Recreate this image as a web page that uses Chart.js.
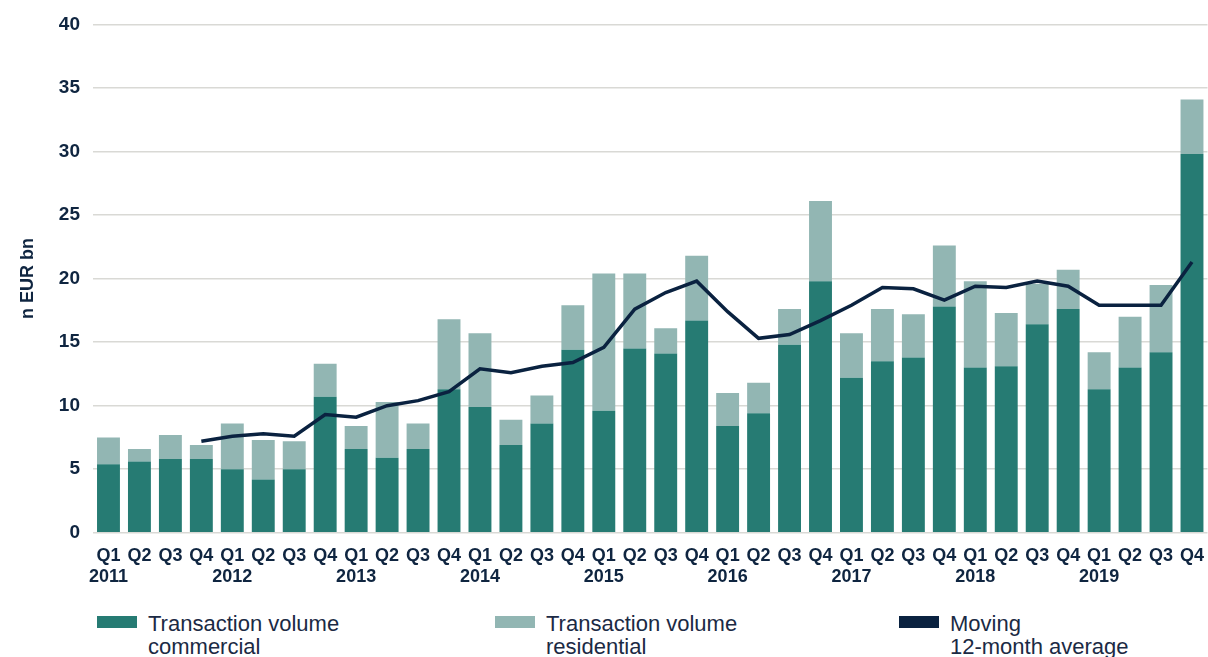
<!DOCTYPE html>
<html>
  <head>
    <script src="https://cdn.jsdelivr.net/npm/chart.js"></script>
    <style>
      body { margin: 0; background: #fff; width: 1208px; height: 657px; overflow: hidden; position: relative; }
      #wrap { position: absolute; left: 0; top: 0; width: 1208px; height: 592px; }
      .leg { position: absolute; top: 612px; font-family: "Liberation Sans", Arial, sans-serif; font-size: 22px; line-height: 23px; color: #1b2a44; }
      .leg span.box { position: absolute; left: 0; top: 4px; width: 40px; height: 12px; }
      .leg div { margin-left: 51px; }
    </style>
  </head>
  <body>
    <div id="wrap"><canvas id="volume-chart"></canvas></div>
    <div class="leg" style="left:97px"><span class="box" style="background:#267b73"></span><div>Transaction volume<br>commercial</div></div>
    <div class="leg" style="left:495px"><span class="box" style="background:#92b6b3"></span><div>Transaction volume<br>residential</div></div>
    <div class="leg" style="left:899px"><span class="box" style="background:#0a2240"></span><div>Moving<br>12-month average</div></div>
    <script>
      var quarters = ['Q1', 'Q2', 'Q3', 'Q4'];
      var years = ['2011', '2012', '2013', '2014', '2015', '2016', '2017', '2018', '2019'];

      // commercial part of each bar (EUR bn)
      var commercial = [
        5.4, 5.6, 5.8, 5.8,
        5.0, 4.2, 5.0, 10.7,
        6.6, 5.9, 6.6, 11.3,
        9.9, 6.9, 8.6, 14.4,
        9.6, 14.5, 14.1, 16.7,
        8.4, 9.4, 14.8, 19.8,
        12.2, 13.5, 13.8, 17.8,
        13.0, 13.1, 16.4, 17.6,
        11.3, 13.0, 14.2, 29.8
      ];
      // total bar height (commercial + residential)
      var totals = [
        7.5, 6.6, 7.7, 6.9,
        8.6, 7.3, 7.2, 13.3,
        8.4, 10.3, 8.6, 16.8,
        15.7, 8.9, 10.8, 17.9,
        20.4, 20.4, 16.1, 21.8,
        11.0, 11.8, 17.6, 26.1,
        15.7, 17.6, 17.2, 22.6,
        19.8, 17.3, 19.6, 20.7,
        14.2, 17.0, 19.5, 34.1
      ];
      // moving 12-month average (starts at Q4 2011)
      var movingAvg = [
        null, null, null, 7.2,
        7.6, 7.8, 7.6, 9.3,
        9.1, 10.0, 10.4, 11.1,
        12.9, 12.6, 13.1, 13.4,
        14.6, 17.6, 18.9, 19.8,
        17.4, 15.3, 15.6, 16.7,
        17.9, 19.3, 19.2, 18.3,
        19.4, 19.3, 19.8, 19.4,
        17.9, 17.9, 17.9, 21.3
      ];

      var labels = [];
      var residential = [];
      for (var i = 0; i < commercial.length; i++) {
        var q = quarters[i % 4];
        labels.push(i % 4 === 0 ? [q, years[i / 4]] : [q, '']);
        residential.push(Math.round((totals[i] - commercial[i]) * 10) / 10);
      }

      var navy = '#0f2540';
      var fam = '"Liberation Sans", Arial, sans-serif';

      var ctx = document.getElementById('volume-chart').getContext('2d');
      var chart = new Chart(ctx, {
        data: {
          labels: labels,
          datasets: [
            {
              type: 'line',
              label: 'Moving 12-month average',
              data: movingAvg,
              borderColor: '#0a2240',
              borderWidth: 3.5,
              pointRadius: 0,
              tension: 0,
              fill: false,
              order: 0
            },
            {
              type: 'bar',
              label: 'Transaction volume commercial',
              data: commercial,
              backgroundColor: '#267b73',
              barPercentage: 0.74,
              categoryPercentage: 1,
              order: 1
            },
            {
              type: 'bar',
              label: 'Transaction volume residential',
              data: residential,
              backgroundColor: '#92b6b3',
              barPercentage: 0.74,
              categoryPercentage: 1,
              order: 1
            }
          ]
        },
        options: {
          responsive: true,
          maintainAspectRatio: false,
          animation: false,
          layout: { padding: { top: 21, right: 0, bottom: 0, left: 17 } },
          plugins: {
            legend: { display: false },
            tooltip: { enabled: false }
          },
          scales: {
            x: {
              stacked: true,
              grid: { display: false },
              border: { display: false },
              ticks: { color: navy, font: { family: fam, size: 18, weight: 'bold' }, maxRotation: 0, autoSkip: false, padding: 4 }
            },
            y: {
              stacked: true,
              min: 0,
              max: 40,
              afterFit: function (scale) { scale.width = 76; },
              ticks: { stepSize: 5, color: navy, font: { family: fam, size: 19, weight: 'bold' }, padding: 13 },
              grid: { color: '#d9d9d5', lineWidth: 1.5, drawTicks: false },
              border: { display: false },
              title: {
                display: true,
                text: 'n EUR bn',
                color: navy,
                font: { family: fam, size: 18, weight: 'bold' },
                padding: 0
              }
            }
          }
        }
      });
    </script>
  </body>
</html>
